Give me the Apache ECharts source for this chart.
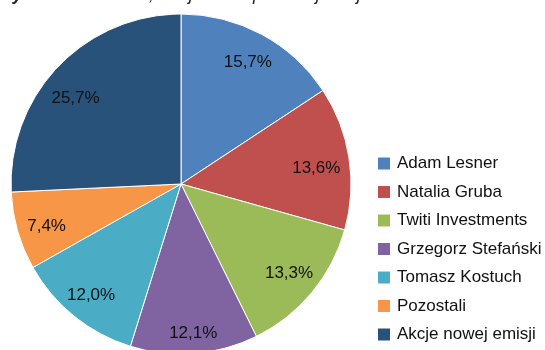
<!DOCTYPE html>
<html>
<head>
<meta charset="utf-8">
<script src="https://cdn.jsdelivr.net/npm/echarts@6/dist/echarts.min.js"></script>
<style>
  html, body { margin: 0; padding: 0; background: #fff; }
  #chart { width: 545px; height: 350px; }
</style>
</head>
<body>
<div id="chart"></div>
<script>
// Shareholder structure after the share issue (percent)
const holders = ['Adam Lesner', 'Natalia Gruba', 'Twiti Investments', 'Grzegorz Stefański', 'Tomasz Kostuch', 'Pozostali', 'Akcje nowej emisji'];
const shares = [15.7, 13.6, 13.3, 12.1, 12.0, 7.4, 25.7];
const palette = ['#4F81BD', '#C0504D', '#9BBB59', '#8064A2', '#4BACC6', '#F79646', '#28527A'];

// small nudges of the value labels (best-fit style placement)
const labelNudges = [[-1, 4], [-6, 6], [-2, -2], [1, 7], [0, 0], [3, 3], [-2, 13]];

const FONT = '"Liberation Sans", Arial, sans-serif';
const fmt = v => v.toFixed(1).replace('.', ',') + '%';

const chart = echarts.init(document.getElementById('chart'), null, { renderer: 'canvas' });
chart.setOption({
  animation: false,
  color: palette,
  graphic: [
    {
      type: 'text',
      left: -4,
      top: -14,
      style: {
        text: 'Wykres 3.',
        font: 'italic bold 18px "Liberation Sans", Arial, sans-serif',
        fill: '#222'
      }
    },
    {
      type: 'text',
      left: 98,
      top: -14,
      style: {
        text: 'Źródło, Akcjonariat po emisji akcji serii E',
        font: 'italic 18px "Liberation Sans", Arial, sans-serif',
        fill: '#222'
      }
    }
  ],
  legend: {
    orient: 'vertical',
    left: 376,
    top: 154,
    padding: 0,
    itemWidth: 14,
    itemHeight: 14,
    itemGap: 9.5,
    icon: 'rect',
    textStyle: { fontFamily: FONT, fontSize: 17, color: '#111', padding: [0, 0, 0, 1], lineHeight: 19 },
    data: holders
  },
  series: [
    {
      type: 'pie',
      center: [181, 184],
      radius: [0, 170],
      startAngle: 90,
      clockwise: true,
      silent: true,
      itemStyle: { borderColor: '#fff', borderWidth: 1 },
      label: { show: false },
      labelLine: { show: false },
      data: holders.map((name, i) => ({ name: name, value: shares[i] }))
    },
    {
      // transparent ring used only to place the value labels
      type: 'pie',
      center: [181, 184],
      radius: [124, 156],
      startAngle: 90,
      clockwise: true,
      silent: true,
      itemStyle: { color: 'rgba(0,0,0,0)' },
      label: {
        show: true,
        position: 'inside',
        fontFamily: FONT,
        fontSize: 17,
        color: '#111',
        formatter: p => fmt(p.value)
      },
      labelLine: { show: false },
      data: holders.map((name, i) => ({
        name: name,
        value: shares[i],
        label: { offset: labelNudges[i] }
      }))
    }
  ]
});
</script>
</body>
</html>
